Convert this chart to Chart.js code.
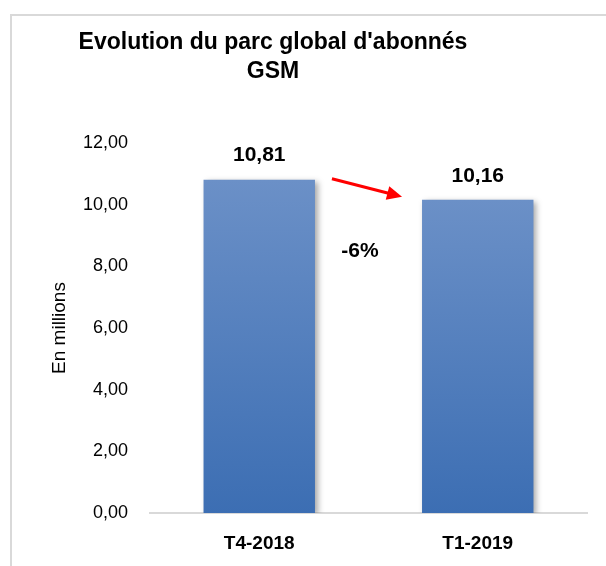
<!DOCTYPE html>
<html>
<head>
<meta charset="utf-8">
<script src="https://cdn.jsdelivr.net/npm/chart.js@4.4.0/dist/chart.umd.min.js"></script>
<style>
  body { margin: 0; background: #fff; overflow: hidden; }
  #wrap { position: relative; width: 606px; height: 566px; }
  #frame { position: absolute; left: 10px; top: 14px; width: 700px; height: 700px;
           border-left: 2px solid #d9d9d9; border-top: 2px solid #d9d9d9; }
  canvas { position: absolute; left: 0; top: 0; }
</style>
</head>
<body>
<div id="wrap">
  <div id="frame"></div>
  <canvas id="myChart" width="606" height="566"></canvas>
</div>
<script>
// donnees
const categories = ['T4-2018', 'T1-2019']
const abonnes = [10.81, 10.16]
const yTicks = [0, 2, 4, 6, 8, 10, 12]
const titleLines = ["Evolution du parc global d'abonnés", 'GSM']
const yTitle = 'En millions'

const FONT = "'Liberation Sans', Arial, sans-serif"

function fr(v){
    return v.toFixed(2).replace('.', ',')
}

function barGradient(ctx){
    var chart = ctx.chart
    if (!chart.chartArea) return '#4f7fc0'
    var y = chart.scales.y
    var top = y.getPixelForValue(abonnes[ctx.dataIndex])
    var bottom = y.getPixelForValue(0)
    var g = chart.ctx.createLinearGradient(0, top, 0, bottom)
    g.addColorStop(0, '#6b90c7')
    g.addColorStop(1, '#3c6eb3')
    return g
}

const extras = {
    id: 'extras',
    beforeDatasetDraw(chart){
        var c = chart.ctx
        c.save()
        c.shadowColor = 'rgba(0,0,0,0.35)'
        c.shadowBlur = 6
        c.shadowOffsetX = 3
        c.shadowOffsetY = 2
    },
    afterDatasetDraw(chart){
        chart.ctx.restore()
    },
    afterDraw(chart){
        var c = chart.ctx
        c.save()
        // titre
        c.fillStyle = '#000'
        c.textAlign = 'center'
        c.textBaseline = 'middle'
        c.font = 'bold 23px ' + FONT
        c.fillText(titleLines[0], 273, 43)
        c.fillText(titleLines[1], 273, 72)

        // valeurs
        var bars = chart.getDatasetMeta(0).data
        c.font = 'bold 21px ' + FONT
        bars.forEach((b, i) => {
            c.fillText(fr(abonnes[i]), b.x, b.y - 24)
        })

        // fleche
        var b1 = bars[0], b2 = bars[1]
        var x1 = b1.x + b1.width / 2 + 17, y1 = b1.y - 1
        var x2 = b2.x - b2.width / 2 - 20, y2 = b2.y - 3
        var ang = Math.atan2(y2 - y1, x2 - x1)
        var head = 15
        c.strokeStyle = '#ff0000'
        c.fillStyle = '#ff0000'
        c.lineWidth = 3
        c.beginPath()
        c.moveTo(x1, y1)
        c.lineTo(x2 - Math.cos(ang) * head * 0.8, y2 - Math.sin(ang) * head * 0.8)
        c.stroke()
        c.beginPath()
        c.moveTo(x2, y2)
        c.lineTo(x2 - Math.cos(ang) * head - Math.sin(ang) * 7, y2 - Math.sin(ang) * head + Math.cos(ang) * 7)
        c.lineTo(x2 - Math.cos(ang) * head + Math.sin(ang) * 7, y2 - Math.sin(ang) * head - Math.cos(ang) * 7)
        c.closePath()
        c.fill()

        // variation
        var pct = Math.round((abonnes[1] - abonnes[0]) / abonnes[0] * 100)
        c.fillStyle = '#000'
        c.font = 'bold 21px ' + FONT
        c.fillText(pct + '%', (x1 + x2) / 2 - 7, b2.y + 51)
        c.restore()
    }
}

const ctx = document.getElementById('myChart')
new Chart(ctx, {
    type: 'bar',
    data: {
        labels: categories,
        datasets: [{
            data: abonnes,
            backgroundColor: barGradient,
            borderWidth: 0,
            barPercentage: 0.51,
            categoryPercentage: 1
        }]
    },
    plugins: [extras],
    options: {
        responsive: false,
        animation: false,
        layout: { padding: { top: 143, right: 19, bottom: 12, left: 0 } },
        plugins: { legend: { display: false }, tooltip: { enabled: false } },
        scales: {
            x: {
                afterFit(axis){
                    axis.height = 41
                },
                grid: { display: false, drawTicks: false },
                border: { display: true, color: '#d9d9d9', width: 2 },
                ticks: { color: '#000', padding: 19, font: { family: FONT, size: 19, weight: 'bold' } }
            },
            y: {
                min: 0,
                max: 12,
                afterBuildTicks(axis){
                    axis.ticks = yTicks.map(v => ({ value: v }))
                },
                afterFit(axis){
                    axis.width = 150
                },
                grid: { display: false, drawTicks: false },
                border: { display: false },
                ticks: { color: '#000', padding: 22, font: { family: FONT, size: 18 }, callback: v => fr(v) },
                title: { display: true, text: yTitle, color: '#000', padding: { top: 48, bottom: 0 },
                         font: { family: FONT, size: 19 } }
            }
        }
    }
})
</script>
</body>
</html>
